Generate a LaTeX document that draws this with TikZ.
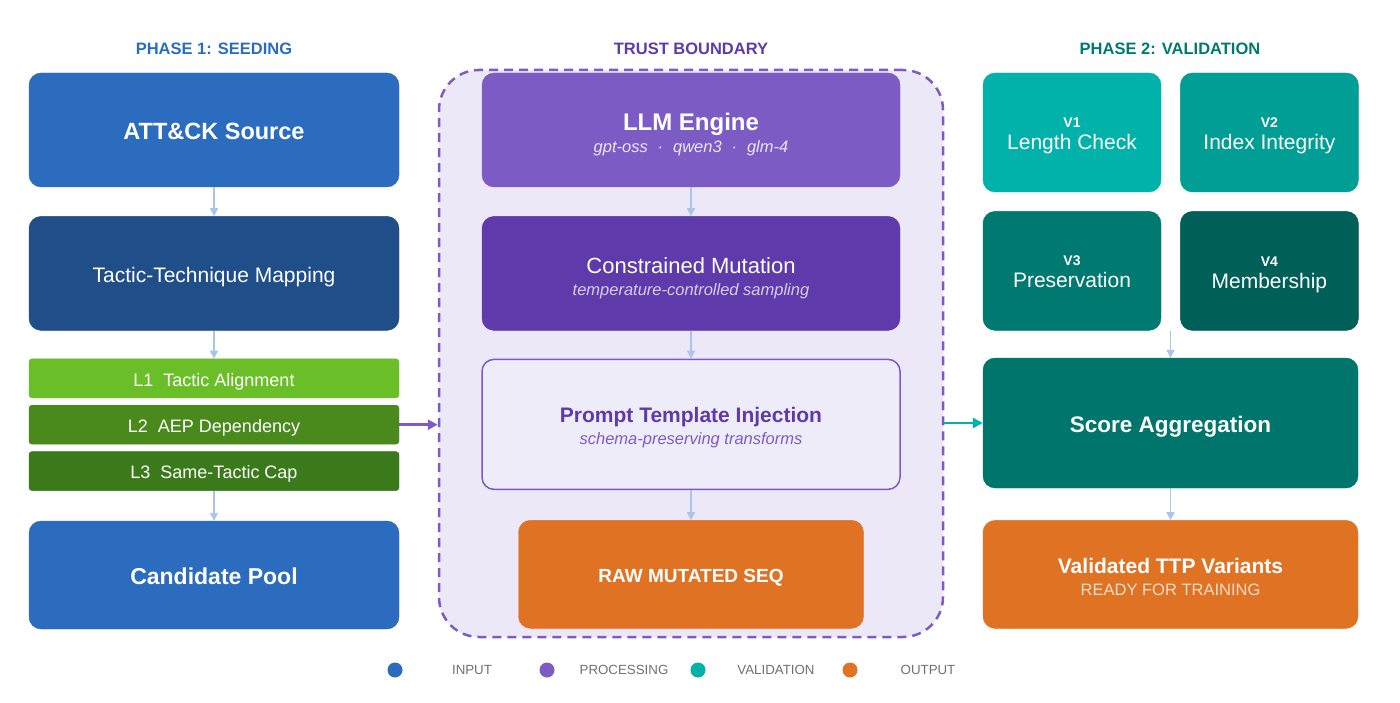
\documentclass[tikz,border=0pt]{standalone}
\usepackage{fontspec}
\setmainfont{Liberation Sans}
\usetikzlibrary{arrows.meta,positioning}
\definecolor{srcCol}{HTML}{2B6CBF}
\definecolor{mapCol}{HTML}{1F4E89}
\definecolor{lOneCol}{HTML}{6ABF28}
\definecolor{lTwoCol}{HTML}{4A8A1D}
\definecolor{lThreeCol}{HTML}{3A7A1A}
\definecolor{llmCol}{HTML}{7C5CC4}
\definecolor{mutCol}{HTML}{5E3AAA}
\definecolor{trustCol}{HTML}{ECE8F7}
\definecolor{promptCol}{HTML}{EFECF9}
\definecolor{outCol}{HTML}{E07224}
\definecolor{vOneCol}{HTML}{00B2AA}
\definecolor{vTwoCol}{HTML}{009E95}
\definecolor{vThreeCol}{HTML}{007A70}
\definecolor{vFourCol}{HTML}{005F59}
\definecolor{scoreCol}{HTML}{00756C}
\definecolor{flowCol}{HTML}{A9C5EB}
\definecolor{legCol}{HTML}{707070}
\newcommand{\ttlfont}{\bfseries\fontsize{23.5}{22}\selectfont}
\newcommand{\subfont}{\itshape\fontsize{16.5}{22}\selectfont}
\newcommand{\lift}[1]{\rule{0pt}{#1}}

\begin{document}
\begin{tikzpicture}[x=1pt,y=-1pt,every node/.style={font=\fontsize{21}{22}\selectfont}]
  \tikzset{bx/.style n args={3}{fill=#1,draw=#1,rounded corners=12pt,align=center,text=white,inner sep=0pt,
        minimum width=#2,minimum height=#3},
    one/.style={text height=#1,text depth=0pt},
    hd/.style={font=\bfseries\fontsize{16.5}{18}\selectfont},
    flow/.style={-{Triangle[length=8pt,width=8pt]},draw=flowCol,line width=1.5pt},
    legdot/.style={circle,fill=#1,minimum size=15pt,inner sep=0pt},
    legtxt/.style={font=\fontsize{13.3}{14}\selectfont,text=legCol}}
  \useasboundingbox (0,0) rectangle (1400,703);
  % trust boundary
  \node[draw=llmCol,fill=trustCol,line width=2.5pt,dash pattern=on 9pt off 6pt,rounded corners=40pt,
        minimum width=504pt,minimum height=567pt] (trust) at (691,353.5) {};
  % headers
  \node[hd,text=srcCol] (hdSeed) at (214,49) {PHASE 1: SEEDING};
  \node[hd,text=mutCol] (hdTrust) at (691,49) {TRUST BOUNDARY};
  \node[hd,text=vThreeCol] (hdVal) at (1170,49) {PHASE 2: VALIDATION};
  % phase 1
  \node[bx={srcCol}{370pt}{114pt}, one=20pt] (src) at (214,130) {\ttlfont ATT\&CK Source};
  \node[bx={mapCol}{370pt}{114pt}, one=18pt, below=29pt of src] (map) {Tactic-Technique Mapping};
  \node[bx={lOneCol}{370pt}{39pt}, one=15.5pt, rounded corners=3pt, below=28pt of map, font=\fontsize{18}{20}\selectfont] (lone) {L1\ \ Tactic Alignment};
  \node[bx={lTwoCol}{370pt}{39pt}, one=15.5pt, rounded corners=3pt, below=7pt of lone, font=\fontsize{18}{20}\selectfont] (ltwo) {L2\ \ AEP Dependency};
  \node[bx={lThreeCol}{370pt}{39pt}, one=15.5pt, rounded corners=3pt, below=7pt of ltwo, font=\fontsize{18}{20}\selectfont] (lthree) {L3\ \ Same-Tactic Cap};
  \node[bx={srcCol}{370pt}{108pt}, one=19.8pt, below=30pt of lthree] (pool) {\bfseries\fontsize{23}{22}\selectfont Candidate Pool};
  % trust boundary contents
  \node[bx={llmCol}{418pt}{114pt}] (llm) at (691,130)
        {{\bfseries\fontsize{24}{22}\selectfont\lift{27pt}LLM Engine}\\{\subfont\color{white!85!llmCol}gpt-oss\hspace{0.6em}·\hspace{0.6em}qwen3\hspace{0.6em}·\hspace{0.6em}glm-4}};
  \node[bx={mutCol}{418pt}{114pt}, below=29pt of llm] (mut)
        {{\fontsize{22}{22}\selectfont\lift{26pt}Constrained Mutation}\\{\subfont\color{white!75!mutCol}temperature-controlled sampling}};
  \node[bx={promptCol}{418pt}{130pt}, draw=llmCol, line width=1.5pt, text=mutCol, below=28pt of mut] (prompt)
        {{\bfseries\fontsize{21}{22}\selectfont\lift{21.5pt}Prompt Template Injection}\\{\subfont\color{llmCol}schema-preserving transforms}};
  \node[bx={outCol}{345pt}{108pt}, one=16.3pt, below=30pt of prompt] (raw) {\bfseries\fontsize{19}{22}\selectfont RAW MUTATED SEQ};
  % phase 2
  \node[bx={vOneCol}{178pt}{119pt}] (vone) at (1072,132.5)
        {{\bfseries\fontsize{14}{22}\selectfont\lift{17pt}V1}\\Length Check};
  \node[bx={vTwoCol}{178pt}{119pt}, right=19pt of vone] (vtwo)
        {{\bfseries\fontsize{14}{22}\selectfont\lift{17pt}V2}\\Index Integrity};
  \node[bx={vThreeCol}{178pt}{119pt}, below=19pt of vone] (vthree)
        {{\bfseries\fontsize{14}{22}\selectfont\lift{12pt}V3}\\Preservation};
  \node[bx={vFourCol}{178pt}{119pt}, below=19pt of vtwo] (vfour)
        {{\bfseries\fontsize{14}{22}\selectfont\lift{17pt}V4}\\Membership};
  \node[bx={scoreCol}{375pt}{130pt}, one=19.4pt] (score) at (1170.5,423) {\bfseries\fontsize{22.5}{22}\selectfont Score Aggregation};
  \node[bx={outCol}{375pt}{108pt}, below=32pt of score] (valid)
        {{\bfseries\fontsize{21}{22}\selectfont\lift{19.5pt}Validated TTP Variants}\\{\fontsize{16.5}{22}\selectfont\color{white!75!outCol}READY FOR TRAINING}};
  % flow
  \draw[flow] (src) -- (map);
  \draw[flow] (map) -- (lone);
  \draw[flow] (lthree) -- (pool);
  \draw[flow] (llm) -- (mut);
  \draw[flow] (mut) -- (prompt);
  \draw[flow] (prompt) -- (raw);
  \draw[flow] (score.north |- vthree.south) -- (score.north);
  \draw[flow] (score) -- (valid);
  \draw[-{Triangle[length=10pt,width=10pt]},draw=llmCol,line width=2.5pt] (ltwo.east) -- (ltwo.east -| trust.west);
  \draw[-{Triangle[length=10pt,width=10pt]},draw=vOneCol,line width=2.5pt] (trust.east |- score.west) -- (score.west);
  % legend
  \node[legdot=srcCol] (legIn) at (395,670) {};
  \node[legtxt] (legInTxt) at (472,670) {INPUT};
  \node[legdot=llmCol] (legProc) at (547,670) {};
  \node[legtxt] (legProcTxt) at (624,670) {PROCESSING};
  \node[legdot=vOneCol] (legVal) at (698,670) {};
  \node[legtxt] (legValTxt) at (776,670) {VALIDATION};
  \node[legdot=outCol] (legOut) at (850,670) {};
  \node[legtxt] (legOutTxt) at (928,670) {OUTPUT};
\end{tikzpicture}
\end{document}
